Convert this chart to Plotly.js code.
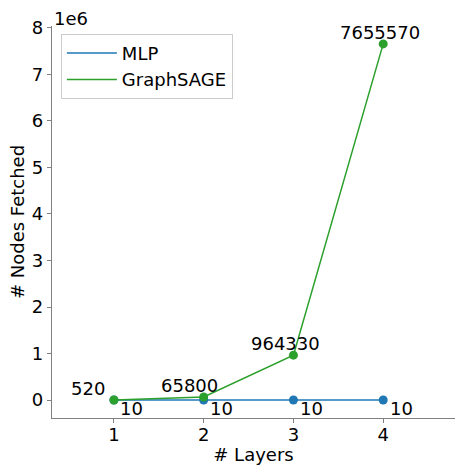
<!DOCTYPE html>
<html><head><meta charset="utf-8">
<script src="https://cdn.plot.ly/plotly-3.0.1.min.js"></script>
<style>html,body{margin:0;padding:0;background:#fff}</style>
</head><body><div id="chart" style="width:460px;height:465px"></div>
<script>
const layers = [1, 2, 3, 4];
const mlpNodes = [10, 10, 10, 10];
const sageNodes = [520, 65800, 964330, 7655570];
const yTickVals = [0, 1e6, 2e6, 3e6, 4e6, 5e6, 6e6, 7e6, 8e6];
const yTickText = ['0','1','2','3','4','5','6','7','8'];
const xTickText = ['1','2','3','4'];

const blue = '#1f77b4', green = '#2ca02c';
const font = 'DejaVu Sans, sans-serif';

const traces = [
  {x: layers, y: mlpNodes, mode: 'lines', name: 'MLP', line: {color: blue, width: 1.5}},
  {x: layers, y: sageNodes, mode: 'lines', name: 'GraphSAGE', line: {color: green, width: 1.5}},
  {x: layers, y: mlpNodes, mode: 'markers', showlegend: false, marker: {color: blue, size: 9}},
  {x: layers, y: sageNodes, mode: 'markers', showlegend: false, marker: {color: green, size: 9}}
];

const annotations = [];
layers.forEach((l, i) => {
  annotations.push({x: l - 0.5, y: sageNodes[i], xref: 'x', yref: 'y', text: String(sageNodes[i]),
    showarrow: false, xanchor: 'left', yanchor: 'bottom', yshift: -1, font: {family: font, size: 18, color: '#000'}});
  annotations.push({x: l + 0.05, y: mlpNodes[i], xref: 'x', yref: 'y', text: String(mlpNodes[i]),
    showarrow: false, xanchor: 'left', yanchor: 'top', yshift: 4, font: {family: font, size: 18, color: '#000'}});
});
annotations.push({x: 0, y: 1, xref: 'paper', yref: 'paper', text: '1e6', showarrow: false,
  xanchor: 'left', yanchor: 'bottom', yshift: -5, font: {family: font, size: 18, color: '#000'}});

const layout = {
  width: 460, height: 465,
  margin: {l: 52, r: 5, t: 26, b: 47},
  paper_bgcolor: '#fff', plot_bgcolor: '#fff',
  font: {family: font, size: 18, color: '#000'},
  xaxis: {range: [0.31, 4.8], tickvals: layers, ticktext: xTickText, showgrid: false, zeroline: false,
    showline: true, linecolor: '#808080', linewidth: 1.2, ticks: 'outside', ticklen: 4, tickcolor: '#808080',
    ticklabelstandoff: -4,
    title: {text: '# Layers', font: {family: font, size: 18}, standoff: 2}},
  yaxis: {range: [-0.386e6, 8.04e6], tickvals: yTickVals, ticktext: yTickText, showgrid: false, zeroline: false,
    showline: true, linecolor: '#808080', linewidth: 1.2, ticks: 'outside', ticklen: 4, tickcolor: '#808080',
    title: {text: '# Nodes Fetched', font: {family: font, size: 18}, standoff: 2}},
  legend: {x: 0.022, y: 0.98, xanchor: 'left', yanchor: 'top', bgcolor: 'rgba(255,255,255,0.8)',
    bordercolor: '#cccccc', borderwidth: 1, font: {family: font, size: 18}, itemwidth: 50},
  annotations: annotations,
  showlegend: true
};
Plotly.newPlot('chart', traces, layout, {displayModeBar: false, staticPlot: true});
</script></body></html>
